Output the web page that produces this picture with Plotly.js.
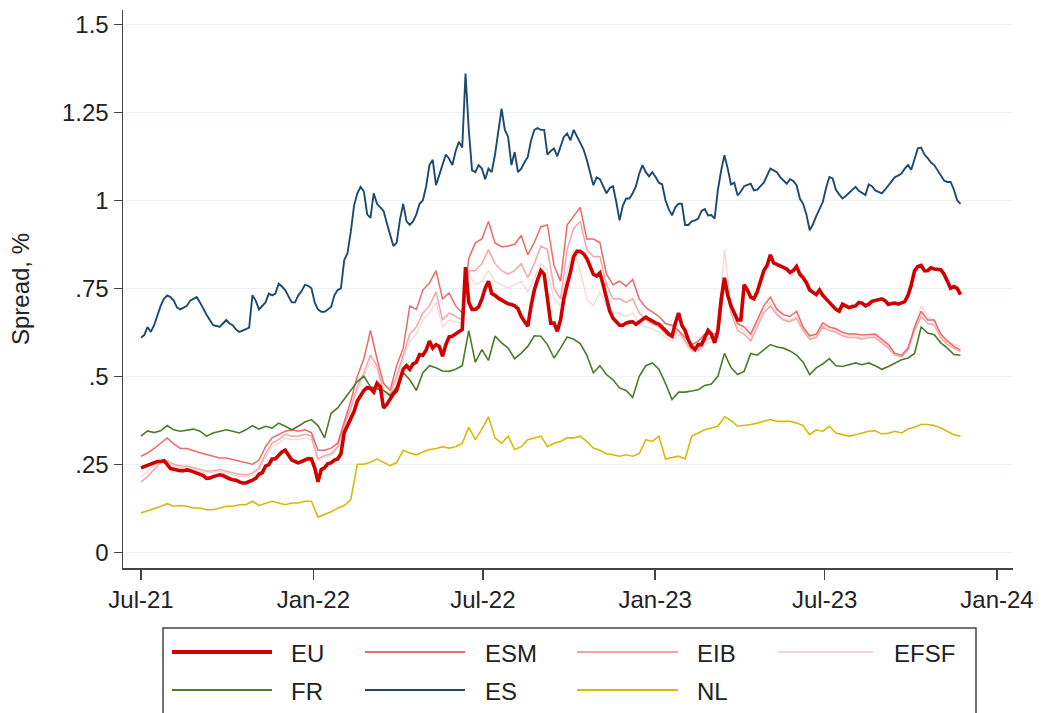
<!DOCTYPE html>
<html>
<head>
<meta charset="utf-8">
<script src="https://cdn.plot.ly/plotly-3.0.1.min.js"></script>
<style>html,body{margin:0;padding:0;background:#fff;}#chart{width:1042px;height:713px;}</style>
</head>
<body>
<div id="chart"></div>
<script>
// ---- data (weekly observations starting 2021-07-01; *_mid = observations half a week later) ----
const startDate = '2021-07-01';
const stepDays = 7;

const EU = [0.24,0.247,0.255,0.258,0.25,0.236,0.232,0.234,0.228,0.222,0.21,0.215,0.22,0.212,0.206,0.20,0.197,0.205,0.222,0.245,
0.265,0.275,0.29,0.262,0.254,0.263,0.265,0.20,0.24,0.254,0.265,0.34,0.38,0.43,0.46,0.465,0.48,0.41,0.435,0.46,
0.52,0.52,0.54,0.56,0.60,0.59,0.557,0.612,0.62,0.633,0.71,0.69,0.72,0.77,0.73,0.716,0.706,0.70,0.67,0.642,
0.745,0.80,0.72,0.651,0.66,0.76,0.84,0.855,0.835,0.79,0.794,0.718,0.665,0.645,0.651,0.655,0.655,0.668,0.656,0.648,
0.63,0.614,0.68,0.63,0.585,0.59,0.61,0.62,0.63,0.78,0.70,0.66,0.76,0.725,0.74,0.80,0.845,0.818,0.81,0.795,
0.812,0.78,0.745,0.732,0.73,0.71,0.69,0.705,0.695,0.70,0.708,0.705,0.715,0.72,0.704,0.708,0.708,0.73,0.80,0.815,
0.80,0.805,0.803,0.77,0.755,0.732];
const EU_mid = [0.244,0.252,0.258,0.26,0.238,0.233,0.232,0.232,0.224,0.218,
0.211,0.217,0.218,0.209,0.205,0.197,0.20,0.21,0.226,0.249,
0.266,0.285,0.278,0.258,0.258,0.266,0.24,0.235,0.252,0.262,
0.28,0.36,0.40,0.443,0.468,0.455,0.47,0.42,0.45,0.495,
0.53,0.535,0.562,0.575,0.58,0.585,0.59,0.614,0.626,0.81,
0.69,0.697,0.75,0.735,0.722,0.71,0.704,0.692,0.656,0.70,
0.775,0.79,0.651,0.628,0.72,0.795,0.855,0.848,0.81,0.785,
0.76,0.685,0.656,0.645,0.654,0.648,0.663,0.662,0.652,0.64,
0.62,0.65,0.645,0.603,0.576,0.59,0.63,0.595,0.72,0.73,
0.68,0.66,0.745,0.72,0.77,0.815,0.822,0.815,0.805,0.80,
0.79,0.766,0.738,0.745,0.72,0.70,0.685,0.70,0.698,0.71,
0.70,0.713,0.718,0.715,0.707,0.705,0.712,0.76,0.812,0.80,
0.808,0.803,0.79,0.75,0.75];

const ESM = [0.273,0.282,0.295,0.31,0.325,0.308,0.295,0.295,0.288,0.283,0.278,0.273,0.268,0.268,0.263,0.26,0.255,0.25,0.262,0.30,
0.325,0.334,0.344,0.348,0.344,0.348,0.34,0.29,0.29,0.296,0.31,0.37,0.43,0.50,0.55,0.63,0.55,0.48,0.46,0.53,
0.58,0.70,0.69,0.745,0.765,0.80,0.72,0.737,0.70,0.68,0.835,0.879,0.89,0.94,0.879,0.868,0.87,0.875,0.90,0.845,
0.88,0.925,0.93,0.815,0.77,0.93,0.955,0.98,0.89,0.89,0.88,0.79,0.76,0.77,0.756,0.775,0.72,0.695,0.683,0.67,
0.65,0.645,0.63,0.61,0.59,0.60,0.62,0.62,0.62,0.76,0.70,0.65,0.64,0.62,0.66,0.70,0.725,0.69,0.675,0.67,
0.685,0.64,0.615,0.62,0.652,0.64,0.635,0.625,0.62,0.62,0.617,0.618,0.62,0.605,0.59,0.565,0.56,0.58,0.64,0.685,
0.66,0.66,0.62,0.60,0.585,0.575];

const EIB = [0.20,0.215,0.235,0.255,0.26,0.25,0.245,0.245,0.24,0.235,0.23,0.232,0.235,0.23,0.225,0.222,0.22,0.225,0.24,0.28,
0.31,0.32,0.335,0.33,0.33,0.335,0.33,0.265,0.275,0.28,0.30,0.36,0.41,0.47,0.51,0.56,0.53,0.46,0.45,0.50,
0.56,0.62,0.64,0.68,0.70,0.74,0.66,0.68,0.67,0.66,0.80,0.80,0.82,0.86,0.82,0.80,0.79,0.80,0.82,0.78,
0.82,0.87,0.86,0.75,0.72,0.86,0.92,0.94,0.86,0.84,0.84,0.76,0.72,0.72,0.71,0.72,0.68,0.66,0.65,0.64,
0.62,0.61,0.63,0.60,0.575,0.575,0.60,0.61,0.61,0.78,0.68,0.63,0.62,0.60,0.64,0.68,0.70,0.675,0.66,0.655,
0.665,0.63,0.605,0.61,0.64,0.63,0.625,0.615,0.61,0.61,0.605,0.61,0.61,0.595,0.58,0.56,0.555,0.575,0.63,0.67,
0.65,0.645,0.61,0.59,0.58,0.57];

const EFSF = [0.215,0.23,0.245,0.255,0.255,0.245,0.24,0.24,0.235,0.23,0.225,0.228,0.23,0.225,0.22,0.215,0.215,0.22,0.235,0.27,
0.30,0.31,0.325,0.32,0.32,0.325,0.32,0.26,0.27,0.275,0.295,0.35,0.40,0.46,0.50,0.54,0.52,0.45,0.445,0.49,
0.55,0.60,0.62,0.66,0.68,0.71,0.64,0.66,0.655,0.65,0.79,0.76,0.77,0.80,0.77,0.76,0.75,0.76,0.77,0.74,
0.78,0.82,0.80,0.72,0.70,0.80,0.86,0.80,0.72,0.70,0.74,0.70,0.68,0.68,0.67,0.68,0.65,0.64,0.635,0.625,
0.61,0.60,0.62,0.59,0.57,0.57,0.59,0.60,0.61,0.86,0.70,0.64,0.63,0.61,0.65,0.69,0.71,0.68,0.665,0.66,
0.67,0.635,0.61,0.615,0.645,0.635,0.63,0.62,0.615,0.615,0.61,0.615,0.615,0.60,0.585,0.565,0.56,0.58,0.64,0.70,
0.67,0.655,0.62,0.60,0.59,0.585];

const FR = [0.33,0.345,0.34,0.345,0.36,0.348,0.344,0.348,0.35,0.344,0.33,0.339,0.344,0.348,0.344,0.339,0.348,0.36,0.35,0.358,
0.353,0.367,0.358,0.348,0.358,0.37,0.377,0.36,0.325,0.395,0.41,0.434,0.46,0.485,0.50,0.47,0.465,0.46,0.445,0.47,
0.51,0.49,0.46,0.51,0.53,0.524,0.515,0.514,0.52,0.53,0.63,0.54,0.576,0.545,0.614,0.595,0.58,0.55,0.566,0.585,
0.615,0.614,0.59,0.552,0.58,0.612,0.605,0.593,0.56,0.51,0.53,0.505,0.49,0.467,0.46,0.44,0.50,0.53,0.538,0.52,
0.48,0.434,0.455,0.455,0.458,0.462,0.474,0.478,0.50,0.565,0.525,0.505,0.514,0.565,0.56,0.576,0.59,0.583,0.58,0.572,
0.56,0.54,0.505,0.524,0.535,0.55,0.53,0.528,0.533,0.538,0.533,0.538,0.53,0.52,0.528,0.538,0.547,0.552,0.565,0.64,
0.623,0.618,0.595,0.58,0.562,0.56];

const ES = [0.61,0.64,0.645,0.70,0.73,0.715,0.69,0.70,0.72,0.71,0.675,0.645,0.64,0.66,0.645,0.626,0.635,0.73,0.69,0.71,
0.73,0.763,0.745,0.71,0.73,0.76,0.75,0.69,0.683,0.697,0.745,0.83,0.91,1.02,1.025,0.95,0.99,0.97,0.90,0.88,
0.99,0.93,0.96,1.0,1.10,1.043,1.10,1.118,1.14,1.15,1.20,1.08,1.09,1.09,1.13,1.26,1.18,1.137,1.09,1.123,
1.20,1.20,1.13,1.147,1.15,1.19,1.20,1.16,1.115,1.043,1.06,1.02,1.04,0.943,1.005,1.02,1.076,1.08,1.08,1.05,
1.0,0.957,0.99,0.93,0.94,0.948,0.975,0.958,1.03,1.128,1.045,1.014,1.04,1.047,1.03,1.05,1.09,1.08,1.055,1.06,
1.043,0.99,0.915,0.955,0.995,1.066,1.03,1.005,1.02,1.038,1.02,1.045,1.028,1.02,1.043,1.066,1.076,1.10,1.12,1.15,
1.12,1.10,1.07,1.052,1.03,0.99];
const ES_mid = [0.617,0.626,0.675,0.72,0.725,0.695,0.695,0.715,0.725,0.69,
0.66,0.643,0.65,0.65,0.633,0.63,0.638,0.715,0.70,0.735,
0.735,0.755,0.727,0.71,0.742,0.757,0.71,0.683,0.69,0.73,
0.75,0.85,0.985,1.038,0.96,1.02,0.98,0.935,0.87,0.945,
0.94,0.94,0.99,1.04,1.115,1.07,1.13,1.10,1.166,1.36,
1.085,1.10,1.06,1.08,1.20,1.20,1.10,1.08,1.108,1.17,
1.205,1.20,1.14,1.125,1.18,1.17,1.18,1.145,1.08,1.065,
1.04,1.035,0.995,0.985,1.005,1.04,1.10,1.068,1.066,1.045,
0.975,0.98,0.99,0.93,0.943,0.97,0.957,0.948,1.085,1.09,
1.05,1.025,1.044,1.028,1.04,1.07,1.085,1.066,1.047,1.055,
1.005,0.96,0.932,0.975,1.035,1.062,1.017,1.012,1.03,1.027,
1.015,1.04,1.024,1.03,1.055,1.07,1.09,1.087,1.148,1.13,
1.107,1.085,1.056,1.052,1.0];

const NL = [0.112,0.118,0.122,0.13,0.138,0.131,0.133,0.131,0.126,0.126,0.121,0.121,0.126,0.131,0.131,0.135,0.135,0.145,0.133,0.138,
0.145,0.14,0.135,0.14,0.14,0.145,0.145,0.10,0.107,0.115,0.125,0.133,0.15,0.25,0.25,0.256,0.265,0.255,0.246,0.255,
0.29,0.282,0.277,0.285,0.292,0.295,0.30,0.296,0.30,0.31,0.355,0.32,0.35,0.385,0.325,0.31,0.33,0.292,0.30,0.32,
0.325,0.33,0.30,0.31,0.315,0.325,0.325,0.33,0.315,0.296,0.29,0.28,0.277,0.273,0.277,0.273,0.28,0.32,0.315,0.33,
0.265,0.268,0.273,0.265,0.33,0.339,0.348,0.353,0.358,0.385,0.375,0.358,0.36,0.363,0.367,0.372,0.377,0.372,0.372,0.372,
0.367,0.36,0.334,0.348,0.344,0.358,0.339,0.334,0.33,0.334,0.339,0.344,0.345,0.336,0.338,0.344,0.339,0.35,0.355,0.363,
0.363,0.36,0.353,0.344,0.334,0.33];

const seriesNames = ['EU','ESM','EIB','EFSF','FR','ES','NL'];
const xTickVals = ['2021-07-01','2022-01-01','2022-07-01','2023-01-01','2023-07-01','2024-01-01'];
const xTickText = ['Jul-21','Jan-22','Jul-22','Jan-23','Jul-23','Jan-24'];
const yTickVals = [0,0.25,0.5,0.75,1,1.25,1.5];
const yTickText = ['0','.25','.5','.75','1','1.25','1.5'];

// ---- dates ----
const DAY = 86400000;
const t0 = new Date(startDate+'T00:00:00Z').getTime();
const iso = t => new Date(t).toISOString().slice(0,16).replace('T',' ');
function weekly(vals){
  return {x: vals.map((v,i)=>iso(t0+i*stepDays*DAY)), y: vals.slice()};
}
function withMid(wk, mid){
  const x=[], y=[];
  wk.forEach((v,i)=>{
    x.push(iso(t0+i*stepDays*DAY)); y.push(v);
    if(i<mid.length){ x.push(iso(t0+(i+0.5)*stepDays*DAY)); y.push(mid[i]); }
  });
  return {x,y};
}
const seriesXY = {
  EU: withMid(EU, EU_mid), ESM: weekly(ESM), EIB: weekly(EIB), EFSF: weekly(EFSF),
  FR: weekly(FR), ES: withMid(ES, ES_mid), NL: weekly(NL)
};

// ---- styles ----
const FONT = 'Liberation Sans, Arial, Helvetica, sans-serif';
const styles = {
  EU:   {color:'#d00000', width:3.6},
  ESM:  {color:'#ec6a6a', width:1.5},
  EIB:  {color:'#f2a6a6', width:1.5},
  EFSF: {color:'#f8d3d3', width:1.2},
  FR:   {color:'#4e7a2c', width:1.6},
  ES:   {color:'#1e4a72', width:1.9},
  NL:   {color:'#d9b908', width:1.6}
};
const drawOrder = ['EFSF','EIB','ESM','NL','FR','ES','EU'];

const traces = drawOrder.map(n => ({
  type:'scatter', mode:'lines', name:n, x:seriesXY[n].x, y:seriesXY[n].y,
  line:{color:styles[n].color, width:styles[n].width},
  showlegend:false, hoverinfo:'x+y+name'
}));

// ---- plot geometry (pixels) ----
const L=123, R=1013, T=10, B=568;
const px2x = p => (p - L)/(R - L);
const py2y = p => (B - p)/(B - T);

// legend drawn as shapes + annotations
const legendCols = [{x0:172,x1:272,tx:289},{x0:365,x1:465,tx:483},{x0:577,x1:678,tx:695},{x0:778,x1:873,tx:892}];
const legendRows = [652, 690];
const shapes = [{
  type:'rect', xref:'paper', yref:'paper',
  x0:px2x(163), x1:px2x(976), y0:py2y(628), y1:py2y(730),
  line:{color:'#444', width:1.5}, fillcolor:'rgba(0,0,0,0)'
}];
const annotations = [];
seriesNames.forEach((n,k)=>{
  const col = legendCols[k%4], row = legendRows[Math.floor(k/4)];
  shapes.push({type:'line', xref:'paper', yref:'paper',
    x0:px2x(col.x0), x1:px2x(col.x1), y0:py2y(row), y1:py2y(row),
    line:{color:styles[n].color, width:n==='EU'?4:2}});
  annotations.push({xref:'paper', yref:'paper', x:px2x(col.tx), y:py2y(row+1),
    xanchor:'left', yanchor:'middle', showarrow:false, text:n,
    font:{family:FONT, size:24, color:'#222'}});
});

const layout = {
  width:1042, height:713,
  margin:{l:L, r:1042-R, t:T, b:713-B, pad:0},
  paper_bgcolor:'#ffffff', plot_bgcolor:'#ffffff',
  showlegend:false,
  font:{family:FONT, size:24, color:'#222'},
  xaxis:{
    type:'date', range:['2021-06-11 19:00','2024-01-18 02:00'],
    showgrid:false, zeroline:false, showline:true, linecolor:'#444', linewidth:1.5,
    ticks:'outside', ticklen:10, tickwidth:1.5, tickcolor:'#444',
    tickmode:'array', tickvals:xTickVals, ticktext:xTickText,
    tickfont:{family:FONT, size:24, color:'#222'}, automargin:false
  },
  yaxis:{
    range:[-0.0446, 1.5406],
    showgrid:true, gridcolor:'#eaf2f3', gridwidth:1, zeroline:false,
    showline:true, linecolor:'#444', linewidth:1.5,
    ticks:'outside', ticklen:8, tickwidth:1.5, tickcolor:'#444',
    tickmode:'array', tickvals:yTickVals, ticktext:yTickText,
    tickfont:{family:FONT, size:24, color:'#222'},
    title:{text:'Spread, %', font:{family:FONT, size:24, color:'#222'}, standoff:25},
    automargin:false
  },
  shapes:shapes, annotations:annotations
};

Plotly.newPlot('chart', traces, layout, {displayModeBar:false, staticPlot:true});
</script>
</body>
</html>
